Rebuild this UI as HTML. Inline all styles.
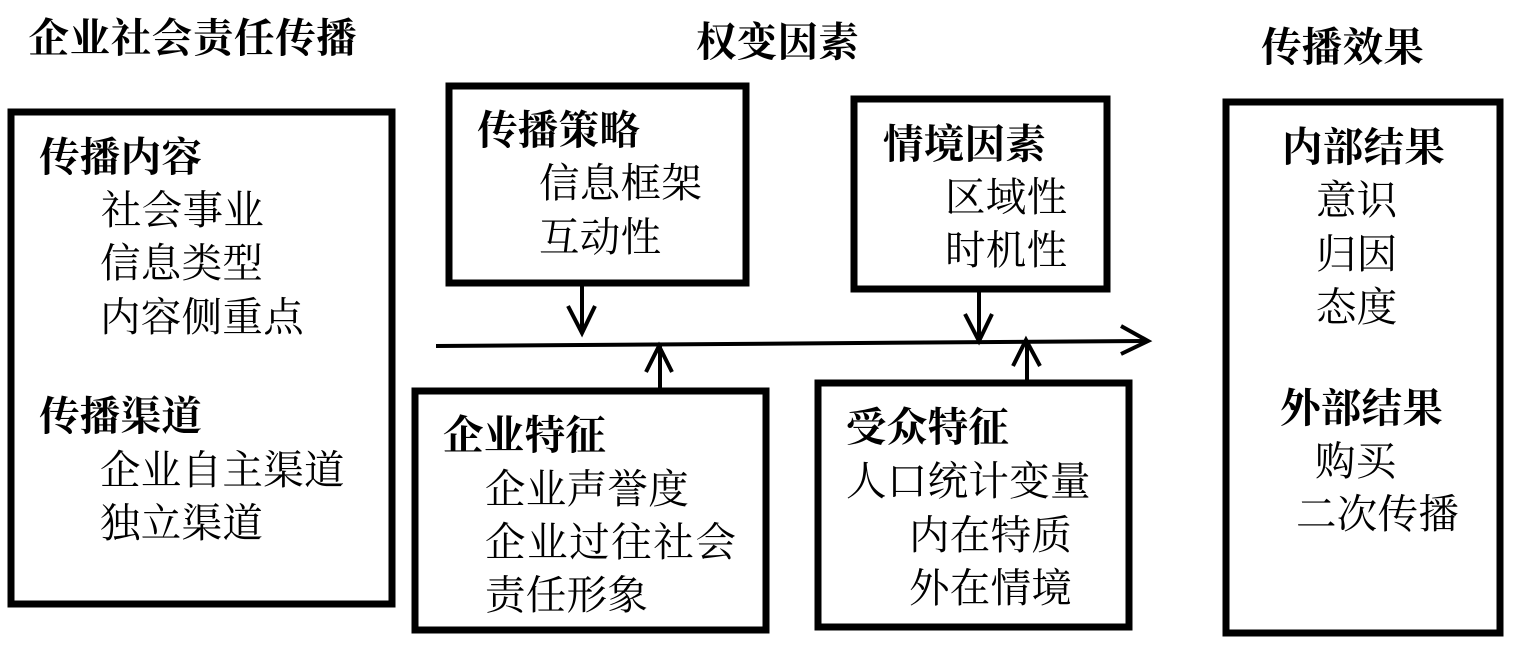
<!DOCTYPE html>
<html><head><meta charset="utf-8">
<style>
html,body{margin:0;padding:0;background:#fff}
svg{display:block}
text{font-family:"Liberation Serif","Noto Serif CJK SC",serif;fill:#000;font-size:40.5px;letter-spacing:.3px}
.b{font-weight:700}
.r{font-weight:400}
</style></head><body>
<svg width="1536" height="653" viewBox="0 0 1536 653" xmlns="http://www.w3.org/2000/svg">
<g fill="none" stroke="#000" stroke-width="7">
<rect x="11" y="112" width="381" height="492"/>
<rect x="449" y="86" width="297" height="197"/>
<rect x="854" y="99" width="253" height="190"/>
<rect x="415" y="391" width="351" height="239"/>
<rect x="818" y="383" width="311" height="244"/>
<rect x="1226" y="102" width="274" height="531"/>
</g>
<g fill="none" stroke="#000" stroke-width="4">
<path d="M436 346 L1146 341"/><path d="M1121 326 L1148 341 L1121 354"/>
<path d="M582 285V332"/><path d="M568 306 L582 333 L595 306"/>
<path d="M660 389V346"/><path d="M646 372 L659 346 L672 372"/>
<path d="M979 291V340"/><path d="M965 314 L979 341 L992 314"/>
<path d="M1027 381V340"/><path d="M1013 366 L1026 340 L1040 366"/>
</g>
<g>
<text class="b" x="28.500" y="52" style="letter-spacing:.6px">企业社会责任传播</text>
<text class="b" x="696" y="56">权变因素</text>
<text class="b" x="1261" y="61">传播效果</text>
<text class="b" x="39" y="171">传播内容</text>
<text class="b" x="39" y="430">传播渠道</text>
<text class="b" x="477" y="144">传播策略</text>
<text class="b" x="883" y="158">情境因素</text>
<text class="b" x="443" y="449">企业特征</text>
<text class="b" x="846" y="441">受众特征</text>
<text class="b" x="1282" y="161">内部结果</text>
<text class="b" x="1280" y="422">外部结果</text>
</g>
<g>
<text class="r" x="101" y="224">社会事业</text>
<text class="r" x="100" y="277">信息类型</text>
<text class="r" x="100" y="331">内容侧重点</text>
<text class="r" x="100" y="484">企业自主渠道</text>
<text class="r" x="100" y="537">独立渠道</text>
<text class="r" x="539" y="197">信息框架</text>
<text class="r" x="539" y="251">互动性</text>
<text class="r" x="945" y="211">区域性</text>
<text class="r" x="945" y="264">时机性</text>
<text class="r" x="485" y="503">企业声誉度</text>
<text class="r" x="485" y="556" style="letter-spacing:1.6px">企业过往社会</text>
<text class="r" x="485" y="609">责任形象</text>
<text class="r" x="846" y="495">人口统计变量</text>
<text class="r" x="909" y="549">内在特质</text>
<text class="r" x="909" y="602">外在情境</text>
<text class="r" x="1316" y="214">意识</text>
<text class="r" x="1316" y="268">归因</text>
<text class="r" x="1316" y="321">态度</text>
<text class="r" x="1315" y="475">购买</text>
<text class="r" x="1296" y="528">二次传播</text>
</g>
</svg>
</body></html>
